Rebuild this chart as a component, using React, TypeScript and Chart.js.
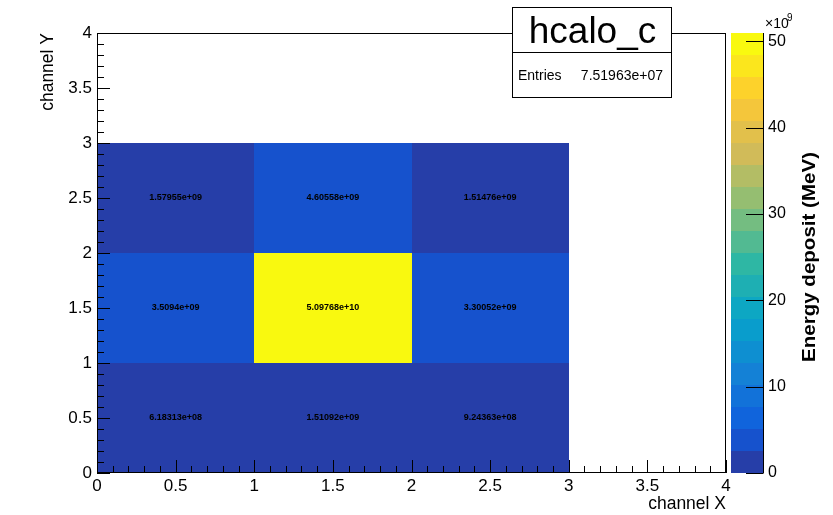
import { useEffect, useRef } from "react";
import { Chart, registerables } from "chart.js";

Chart.register(...registerables);

// ---- data ----
const histTitle = "hcalo_c";
const entriesLabel = "Entries";
const entriesValue = "7.51963e+07";
const xTitle = "channel X";
const yTitle = "channel Y";
const zTitle = "Energy deposit (MeV)";

const binLowX = [0, 1, 2];
const binLowY = [0, 1, 2];
const rowY0 = [6.18313e8, 1.51092e9, 9.24363e8];
const rowY1 = [3.5094e9, 5.09768e10, 3.30052e9];
const rowY2 = [1.57955e9, 4.60558e9, 1.51476e9];
const cellRows = [rowY0, rowY1, rowY2];

const axisTicks = [0, 0.5, 1, 1.5, 2, 2.5, 3, 3.5, 4];
const colorTicks = [0, 10, 20, 30, 40, 50]; // in units of 1e9
const colorExponent = 9;

// kBird palette
const palStops = [0, 0.125, 0.25, 0.375, 0.5, 0.625, 0.75, 0.875, 1];
const palRed = [0.2082, 0.0592, 0.078, 0.0232, 0.1802, 0.5301, 0.8186, 0.9956, 0.9764];
const palGreen = [0.1664, 0.3599, 0.5041, 0.6419, 0.7178, 0.7492, 0.7328, 0.7862, 0.9832];
const palBlue = [0.5293, 0.8684, 0.8385, 0.7914, 0.6425, 0.4662, 0.3499, 0.1968, 0.0539];
const nContours = 20;

const FONT = "'Liberation Sans', Arial, Helvetica, sans-serif";

function buildPalette(n: number): string[] {
  const pal: string[] = [];
  for (let g = 1; g < palStops.length; g++) {
    const k = Math.floor(n * palStops[g]) - Math.floor(n * palStops[g - 1]);
    for (let c = 0; c < k; c++) {
      const t = c / k;
      const r = palRed[g - 1] + (palRed[g] - palRed[g - 1]) * t;
      const gg = palGreen[g - 1] + (palGreen[g] - palGreen[g - 1]) * t;
      const b = palBlue[g - 1] + (palBlue[g] - palBlue[g - 1]) * t;
      pal.push(`rgb(${Math.round(r * 255)},${Math.round(gg * 255)},${Math.round(b * 255)})`);
    }
  }
  return pal;
}
const palette = buildPalette(255);
function bandColor(i: number) {
  const idx = Math.min(palette.length - 1, Math.floor(((i + 0.99) * palette.length) / nContours));
  return palette[idx];
}

function fmtG(v: number) {
  const s = v.toExponential(5);
  let [m, e] = s.split("e");
  if (m.includes(".")) m = m.replace(/0+$/, "").replace(/\.$/, "");
  const en = parseInt(e, 10);
  const sign = en < 0 ? "-" : "+";
  return m + "e" + sign + String(Math.abs(en)).padStart(2, "0");
}

const allValues = cellRows.flat();
const zMax = Math.max(...allValues);
const zScaleMax = zMax / Math.pow(10, colorExponent);

const heatPlugin = {
  id: "heat2d",
  beforeDatasetsDraw(chart: any) {
    const { ctx, chartArea, scales } = chart;
    const x = scales.x, y = scales.y, z = scales.z;
    ctx.save();
    ctx.fillStyle = "#ffffff";
    ctx.fillRect(chartArea.left, chartArea.top, chartArea.right - chartArea.left, chartArea.bottom - chartArea.top);
    // cells
    cellRows.forEach((row, j) => {
      row.forEach((v, i) => {
        const band = Math.min(nContours - 1, Math.floor((v / zMax) * nContours));
        const x0 = Math.round(x.getPixelForValue(binLowX[i]));
        const x1 = Math.round(x.getPixelForValue(binLowX[i] + 1));
        const y0 = Math.round(y.getPixelForValue(binLowY[j] + 1));
        const y1 = Math.round(y.getPixelForValue(binLowY[j]));
        ctx.fillStyle = bandColor(band);
        ctx.fillRect(x0, y0, x1 - x0, y1 - y0);
      });
    });
    // colour bar
    const barL = chartArea.right + 5;
    const barR = chartArea.right + 37;
    for (let i = 0; i < nContours; i++) {
      const v0 = (i * zScaleMax) / nContours;
      const v1 = ((i + 1) * zScaleMax) / nContours;
      const p0 = Math.round(z.getPixelForValue(v0));
      const p1 = Math.round(z.getPixelForValue(v1));
      ctx.fillStyle = bandColor(i);
      ctx.fillRect(barL, p1, barR - barL, p0 - p1);
    }
    ctx.strokeStyle = "#000";
    ctx.lineWidth = 1;
    ctx.beginPath();
    ctx.moveTo(barR + 0.5, Math.round(z.getPixelForValue(zScaleMax)));
    ctx.lineTo(barR + 0.5, Math.round(z.getPixelForValue(0)));
    colorTicks.forEach((v) => {
      const p = Math.round(z.getPixelForValue(v)) + 0.5;
      ctx.moveTo(barR - 17, p);
      ctx.lineTo(barR + 0.5, p);
    });
    ctx.stroke();
    ctx.restore();
  },
  afterDatasetsDraw(chart: any) {
    const { ctx, chartArea, scales } = chart;
    const x = scales.x, y = scales.y;
    const L = chartArea.left, R = chartArea.right, T = chartArea.top, B = chartArea.bottom;
    ctx.save();
    ctx.strokeStyle = "#000";
    ctx.lineWidth = 1;
    // frame
    ctx.strokeRect(Math.round(L) + 0.5, Math.round(T) + 0.5, Math.round(R - L) - 1, Math.round(B - T) - 1);
    // ticks
    ctx.beginPath();
    const drawAxisTicks = (horizontal: boolean) => {
      for (let k = 0; k < axisTicks.length; k++) {
        const a = axisTicks[k];
        const vals: [number, number][] = [[a, 13]];
        if (k < axisTicks.length - 1) {
          const b = axisTicks[k + 1];
          for (let m = 1; m < 5; m++) vals.push([a + ((b - a) * m) / 5, 7]);
        }
        vals.forEach(([v, len]) => {
          if (horizontal) {
            const p = Math.round(x.getPixelForValue(v)) + 0.5;
            ctx.moveTo(p, B);
            ctx.lineTo(p, B - len);
          } else {
            const p = Math.round(y.getPixelForValue(v)) + 0.5;
            ctx.moveTo(L, p);
            ctx.lineTo(L + len, p);
          }
        });
      }
    };
    drawAxisTicks(true);
    drawAxisTicks(false);
    ctx.stroke();
    // cell labels
    ctx.fillStyle = "#000";
    ctx.font = `bold 9px ${FONT}`;
    ctx.textAlign = "center";
    ctx.textBaseline = "middle";
    cellRows.forEach((row, j) => {
      row.forEach((v, i) => {
        const cx = x.getPixelForValue(binLowX[i] + 0.5);
        const cy = y.getPixelForValue(binLowY[j] + 0.5);
        ctx.fillText(fmtG(v), cx, cy);
      });
    });
    // axis titles
    ctx.font = `17.5px ${FONT}`;
    ctx.textBaseline = "alphabetic";
    ctx.textAlign = "right";
    ctx.fillText(xTitle, R, 509);
    ctx.save();
    ctx.translate(53, T);
    ctx.rotate(-Math.PI / 2);
    ctx.textAlign = "right";
    ctx.fillText(yTitle, 0, 0);
    ctx.restore();
    // colour axis title
    ctx.save();
    ctx.font = `bold 18px ${FONT}`;
    const w = ctx.measureText(zTitle).width;
    ctx.translate(815, 257);
    ctx.rotate(-Math.PI / 2);
    ctx.scale(210 / w, 1);
    ctx.textAlign = "center";
    ctx.fillText(zTitle, 0, 0);
    ctx.restore();
    // exponent
    ctx.save();
    ctx.beginPath();
    ctx.rect(0, 0, 792, 515);
    ctx.clip();
    ctx.textAlign = "left";
    ctx.font = `14px ${FONT}`;
    ctx.fillText("\u00d710", 765, 28);
    ctx.font = `10px ${FONT}`;
    ctx.fillText(String(colorExponent), 787, 21);
    ctx.restore();
    // stats box
    const bx0 = 512, bx1 = 671, by0 = 7, bdiv = 52, by1 = 97;
    ctx.fillStyle = "#ffffff";
    ctx.fillRect(bx0, by0, bx1 - bx0, by1 - by0);
    ctx.strokeStyle = "#000";
    ctx.strokeRect(bx0 + 0.5, by0 + 0.5, bx1 - bx0, by1 - by0);
    ctx.beginPath();
    ctx.moveTo(bx0, bdiv + 0.5);
    ctx.lineTo(bx1 + 1, bdiv + 0.5);
    ctx.stroke();
    ctx.fillStyle = "#000";
    ctx.font = `37px ${FONT}`;
    ctx.textAlign = "center";
    ctx.fillText(histTitle, (bx0 + bx1) / 2 + 1, 43);
    ctx.font = `14px ${FONT}`;
    ctx.textAlign = "left";
    ctx.fillText(entriesLabel, 518, 80);
    ctx.textAlign = "right";
    ctx.fillText(entriesValue, 663, 80);
    ctx.restore();
  },
};

export default function App() {
  const ref = useRef<HTMLCanvasElement | null>(null);
  useEffect(() => {
    if (!ref.current) return;
    const tickFont = { family: FONT, size: 17 };
    const noPad = (s: any) => {
      s.paddingTop = 0;
      s.paddingBottom = 0;
      s.paddingLeft = 0;
      s.paddingRight = 0;
    };
    const fmt = (v: any) => String(v);
    const chart = new Chart(ref.current, {
      type: "scatter",
      data: {
        datasets: [
          {
            data: cellRows.flatMap((row, j) => row.map((v, i) => ({ x: binLowX[i] + 0.5, y: binLowY[j] + 0.5 }))),
            pointRadius: 0,
            showLine: false,
          },
        ],
      },
      options: {
        animation: false,
        responsive: false,
        devicePixelRatio: 1,
        events: [],
        layout: { padding: { top: 33, left: 0, right: 0, bottom: 0 } },
        plugins: { legend: { display: false }, tooltip: { enabled: false } },
        scales: {
          x: {
            type: "linear",
            position: "bottom",
            min: 0,
            max: 4,
            afterBuildTicks: (s: any) => {
              s.ticks = axisTicks.map((v) => ({ value: v }));
            },
            afterFit: (s: any) => {
              s.height = 42;
              noPad(s);
            },
            grid: { display: false, drawTicks: false },
            border: { display: false },
            ticks: { font: tickFont, color: "#000", padding: 3, autoSkip: false, maxRotation: 0, callback: fmt },
          },
          y: {
            type: "linear",
            position: "left",
            min: 0,
            max: 4,
            afterBuildTicks: (s: any) => {
              s.ticks = axisTicks.map((v) => ({ value: v }));
            },
            afterFit: (s: any) => {
              s.width = 97;
              noPad(s);
            },
            grid: { display: false, drawTicks: false },
            border: { display: false },
            ticks: { font: tickFont, color: "#000", padding: 5, autoSkip: false, callback: fmt },
          },
          z: {
            type: "linear",
            position: "right",
            min: 0,
            max: zScaleMax,
            afterBuildTicks: (s: any) => {
              s.ticks = colorTicks.map((v) => ({ value: v }));
            },
            afterFit: (s: any) => {
              s.width = 107;
              noPad(s);
            },
            grid: { display: false, drawTicks: false },
            border: { display: false },
            ticks: { font: { family: FONT, size: 16 }, color: "#000", padding: 42, autoSkip: false, callback: fmt },
          },
        },
      } as any,
      plugins: [heatPlugin],
    });
    return () => chart.destroy();
  }, []);
  return (
    <div style={{ position: "absolute", left: 0, top: 0, width: 833, height: 515, background: "#fff" }}>
      <canvas ref={ref} width={833} height={515} style={{ display: "block" }} />
    </div>
  );
}
